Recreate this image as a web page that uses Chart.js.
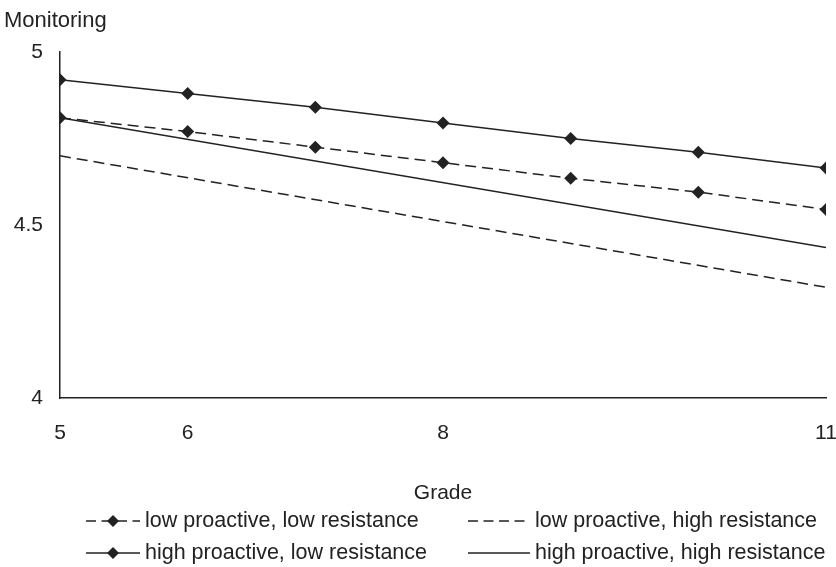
<!DOCTYPE html>
<html>
<head>
<meta charset="utf-8">
<script src="https://cdn.jsdelivr.net/npm/chart.js@4.4.0/dist/chart.umd.min.js"></script>
<style>
  body { margin: 0; background: #fff; }
  #wrap { width: 836px; height: 567px; }
</style>
</head>
<body>
<div id="wrap"><canvas id="myChart" width="836" height="567"></canvas></div>
<script>
// values
const grades = [5, 6, 7, 8, 9, 10, 11];
const lowProLowRes = [4.81, 4.77, 4.725, 4.68, 4.635, 4.595, 4.545];
const highProLowRes = [4.92, 4.88, 4.84, 4.795, 4.75, 4.71, 4.665];
// these two are plain lines, only the end points are drawn
const endGrades = [5, 11];
const lowProHighRes = [4.70, 4.32];
const highProHighRes = [4.81, 4.435];

const seriesNames = [
  "low proactive, low resistance",
  "low proactive, high resistance",
  "high proactive, low resistance",
  "high proactive, high resistance",
];
const xTicks = [5, 6, 8, 11];
const yTicks = [4, 4.5, 5];
const xTitle = "Grade";
const yTitle = "Monitoring";

const ink = "#222";
const dash = [11, 6];

function toPoints(xs, ys) {
  return xs.map((x, i) => ({ x: x, y: ys[i] }));
}

Chart.defaults.font.family = "'Liberation Sans', Arial, sans-serif";
Chart.defaults.color = ink;

// y title on top and the 2x2 legend
const extras = {
  id: "extras",
  afterDraw(chart) {
    const ctx = chart.ctx;
    ctx.save();
    ctx.fillStyle = ink;
    ctx.strokeStyle = ink;
    ctx.textBaseline = "middle";
    ctx.font = "22px 'Liberation Sans', Arial, sans-serif";
    ctx.fillText(yTitle, 4, 21);

    const rows = [521, 553];
    const cols = [{ x0: 86, x1: 140, tx: 145 }, { x0: 468, x1: 530, tx: 535 }];
    ctx.font = "21.5px 'Liberation Sans', Arial, sans-serif";
    for (let i = 0; i < 4; i++) {
      const ds = chart.data.datasets[i];
      const c = cols[i % 2];
      const y = rows[Math.floor(i / 2)];
      ctx.lineWidth = 1.5;
      ctx.setLineDash(ds.borderDash ? [10, 5.5] : []);
      ctx.beginPath();
      ctx.moveTo(c.x0, y);
      ctx.lineTo(c.x1, y);
      ctx.stroke();
      ctx.setLineDash([]);
      if (ds.pointRadius > 0) {
        const cx = (c.x0 + c.x1) / 2, r = 6;
        ctx.beginPath();
        ctx.moveTo(cx, y - r);
        ctx.lineTo(cx + r, y);
        ctx.lineTo(cx, y + r);
        ctx.lineTo(cx - r, y);
        ctx.closePath();
        ctx.fill();
      }
      ctx.fillText(seriesNames[i], c.tx, y);
    }
    ctx.restore();
  },
};

const ctx = document.getElementById("myChart");

new Chart(ctx, {
  type: "line",
  data: {
    datasets: [
      {
        label: seriesNames[0],
        data: toPoints(grades, lowProLowRes),
        borderDash: dash,
        pointRadius: 6.5,
      },
      {
        label: seriesNames[1],
        data: toPoints(endGrades, lowProHighRes),
        borderDash: dash,
        pointRadius: 0,
      },
      {
        label: seriesNames[2],
        data: toPoints(grades, highProLowRes),
        pointRadius: 6.5,
      },
      {
        label: seriesNames[3],
        data: toPoints(endGrades, highProHighRes),
        pointRadius: 0,
      },
    ].map((d) => Object.assign({
      borderColor: ink,
      backgroundColor: ink,
      borderWidth: 1.5,
      pointStyle: "rectRot",
      pointBorderWidth: 0,
      tension: 0,
    }, d)),
  },
  options: {
    responsive: false,
    animation: false,
    devicePixelRatio: 1,
    layout: { padding: { top: 52, left: 0, right: 10, bottom: 61 } },
    plugins: {
      legend: { display: false },
      tooltip: { enabled: false },
    },
    scales: {
      x: {
        type: "linear",
        min: 5,
        max: 11,
        afterBuildTicks: (axis) => { axis.ticks = xTicks.map((v) => ({ value: v })); },
        afterFit: (axis) => {
          axis.height = 108;
          axis.paddingLeft = 0;
          axis.paddingRight = 0;
        },
        grid: { display: false, drawTicks: false },
        border: { display: true, color: ink, width: 1.5 },
        ticks: { padding: 23, font: { size: 21 }, callback: (v) => String(v) },
        title: { display: true, text: xTitle, font: { size: 21 }, padding: 0 },
      },
      y: {
        min: 4,
        max: 5,
        afterBuildTicks: (axis) => { axis.ticks = yTicks.map((v) => ({ value: v })); },
        afterFit: (axis) => { axis.width = 60; },
        grid: { display: false, drawTicks: false },
        border: { display: true, color: ink, width: 1.5 },
        ticks: { padding: 17, font: { size: 21 }, callback: (v) => String(v) },
      },
    },
  },
  plugins: [extras],
});
</script>
</body>
</html>
